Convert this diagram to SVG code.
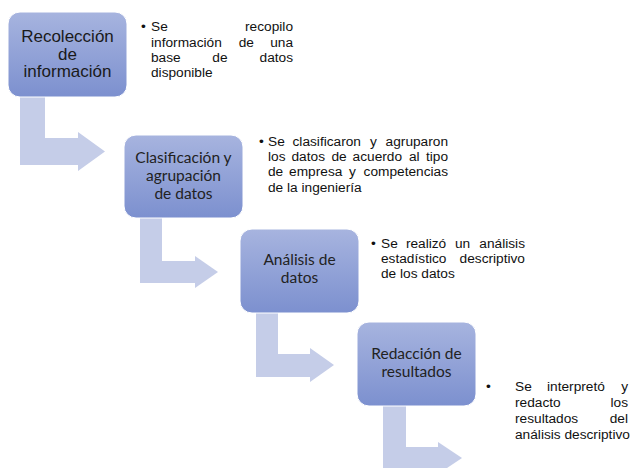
<svg xmlns="http://www.w3.org/2000/svg" width="631" height="468" viewBox="0 0 631 468">
<defs>
<linearGradient id="boxGrad" x1="0" y1="0" x2="0" y2="1">
<stop offset="0" stop-color="#a7b4df"/>
<stop offset="1" stop-color="#7c90cf"/>
</linearGradient>
</defs>
<style>
.box{fill:url(#boxGrad);stroke:#ffffff;stroke-width:1}
.arrow{fill:#c5cde8}
.lbl{font-family:Lato,"Open Sans",sans-serif;font-size:15.5px;fill:#222222;text-anchor:middle}
.lbl1{font-family:"Liberation Sans",Arial,sans-serif;font-size:17px;fill:#1a1a1a;text-anchor:middle}
.bt{font-family:"Liberation Sans",Arial,sans-serif;font-size:13.7px;fill:#111111}
.e{text-anchor:end}
</style>
<rect width="631" height="468" fill="#ffffff"/>
<g id="connectors">
<path class="arrow" d="M20,92 H45 V138 H78 V132 L105,151.5 L78,171 V165 H20 Z"/>
<path class="arrow" d="M140,214 H162 V261 H195 V256 L218,272 L195,288 V283 H140 Z"/>
<path class="arrow" d="M256,309 H278 V354 H310 V348 L334,365 L310,382 V377 H256 Z"/>
<path class="arrow" d="M383,402 H406 V447 H438 V442 L462,458 L438,474 V469 H383 Z"/>
</g>
<g id="node1">
<rect class="box" x="8" y="12" width="119" height="85" rx="12"/>
<text class="lbl1" x="67.5" y="42">Recolección</text>
<text class="lbl1" x="67.5" y="59.5">de</text>
<text class="lbl1" x="67.5" y="77">información</text>
</g>
<g id="note1">
<text class="bt" x="141" y="31">•</text>
<text class="bt" x="151" y="31">Se</text>
<text class="bt e" x="293" y="31">recopilo</text>
<text class="bt" x="151" y="46.5">información</text>
<text class="bt" x="238.7" y="46.5">de</text>
<text class="bt e" x="293" y="46.5">una</text>
<text class="bt" x="151" y="62">base</text>
<text class="bt" x="212.3" y="62">de</text>
<text class="bt e" x="293" y="62">datos</text>
<text class="bt" x="151" y="77">disponible</text>
</g>
<g id="node2">
<rect class="box" x="124" y="135" width="119" height="83" rx="12"/>
<text class="lbl" x="183.5" y="163">Clasificación y</text>
<text class="lbl" x="183.5" y="181">agrupación</text>
<text class="lbl" x="183.5" y="199">de datos</text>
</g>
<g id="note2">
<text class="bt" x="259" y="146">•</text>
<text class="bt" x="268" y="146">Se</text>
<text class="bt" x="292.5" y="146">clasificaron</text>
<text class="bt" x="369.9" y="146">y</text>
<text class="bt e" x="448" y="146">agruparon</text>
<text class="bt" x="268" y="161">los</text>
<text class="bt" x="291.5" y="161">datos</text>
<text class="bt" x="331.4" y="161">de</text>
<text class="bt" x="352.6" y="161">acuerdo</text>
<text class="bt" x="408.9" y="161">al</text>
<text class="bt e" x="448" y="161">tipo</text>
<text class="bt" x="268" y="176">de</text>
<text class="bt" x="289.1" y="176">empresa</text>
<text class="bt" x="349.1" y="176">y</text>
<text class="bt e" x="448" y="176">competencias</text>
<text class="bt" x="268" y="191.5">de la ingeniería</text>
</g>
<g id="node3">
<rect class="box" x="240" y="229" width="119" height="84" rx="12"/>
<text class="lbl" x="299.5" y="264.5">Análisis de</text>
<text class="lbl" x="299.5" y="283">datos</text>
</g>
<g id="note3">
<text class="bt" x="371" y="248">•</text>
<text class="bt" x="381" y="248">Se</text>
<text class="bt" x="405.9" y="248">realizó</text>
<text class="bt" x="454.9" y="248">un</text>
<text class="bt e" x="525" y="248">análisis</text>
<text class="bt" x="381" y="263">estadístico</text>
<text class="bt e" x="525" y="263">descriptivo</text>
<text class="bt" x="381" y="278">de los datos</text>
</g>
<g id="node4">
<rect class="box" x="357" y="322" width="119" height="84" rx="12"/>
<text class="lbl" x="416.5" y="358.5">Redacción de</text>
<text class="lbl" x="416.5" y="377">resultados</text>
</g>
<g id="note4">
<text class="bt" x="486" y="391">•</text>
<text class="bt" x="515" y="391">Se</text>
<text class="bt" x="547" y="391">interpretó</text>
<text class="bt e" x="628" y="391">y</text>
<text class="bt" x="515" y="406.5">redacto</text>
<text class="bt e" x="628" y="406.5">los</text>
<text class="bt" x="515" y="422.5">resultados</text>
<text class="bt e" x="628" y="422.5">del</text>
<text class="bt" x="515" y="438.5">análisis descriptivo</text>
</g>
</svg>
